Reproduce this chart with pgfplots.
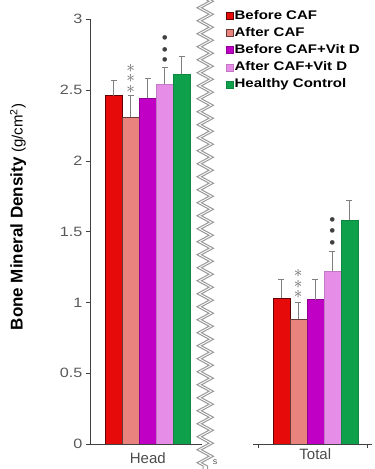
\documentclass[border=0pt]{standalone}
\usepackage{pgfplots}
\pgfplotsset{compat=1.18}
\usepackage{fontspec}
\setmainfont{Liberation Sans}
\newfontfamily\widefont[FakeStretch=1.2]{Liberation Sans}
\usetikzlibrary{decorations.pathmorphing}
\definecolor{cRed}{HTML}{E60A0A}
\definecolor{cSal}{HTML}{E8837E}
\definecolor{cMag}{HTML}{C000C4}
\definecolor{cVio}{HTML}{E68DE8}
\definecolor{cGrn}{HTML}{0FA04C}
\definecolor{cTxt}{HTML}{595959}
\definecolor{cErr}{HTML}{7F7F7F}
\tikzset{
  star/.style={inner sep=0pt, text=black!60, font=\fontsize{17}{17}\selectfont},
  dot/.style={inner sep=0pt, text=black!75, font=\fontsize{17}{17}\selectfont},
}
\pgfplotsset{
  bmd/.style={
    scale only axis, height=424.8pt,
    ymin=0, ymax=3,
    ybar=0pt, bar width=17pt,
    tick align=outside, major tick length=4pt,
    axis line style={black!75, line width=0.6pt},
    tick style={black!75, line width=0.6pt},
    /pgf/number format/assume math mode=true,
    ticklabel style={font=\widefont\fontsize{13.5}{15}\selectfont, text=cTxt},
    every axis plot/.append style={line width=0.5pt},
    error bars/y dir=plus, error bars/y explicit,
    error bars/error bar style={cErr, line width=0.8pt},
    error bars/error mark options={rotate=90, mark size=3pt, cErr, line width=0.8pt},
  },
}
\begin{document}
\begin{tikzpicture}[x=1pt,y=1pt]
\path[use as bounding box] (0,0) rectangle (375,469);
% ---------------- Head ----------------
\begin{axis}[bmd,
  at={(90pt,25pt)}, anchor=south west, width=112pt,
  xmin=0, xmax=112,
  axis x line*=bottom, axis y line*=left,
  ytick={0,0.5,1,1.5,2,2.5,3},
  xtick={57.8}, xticklabels={Head},
  x tick style={draw=none},
  xticklabel style={font=\fontsize{15}{17}\selectfont, text=black!70, yshift=-1pt},
]
\addplot[fill=cRed, draw=black!60!red] coordinates {(57.8,2.46) +- (0,0.11)};
\addplot[fill=cSal, draw=black!55!cSal] coordinates {(57.8,2.31) +- (0,0.15)};
\addplot[fill=cMag, draw=black!25!cMag] coordinates {(57.8,2.44) +- (0,0.14)};
\addplot[fill=cVio, draw=black!15!cVio] coordinates {(57.8,2.54) +- (0,0.12)};
\addplot[fill=cGrn, draw=black!15!cGrn] coordinates {(57.8,2.61) +- (0,0.13)};
\node[star] at (axis cs:40.8,2.507) {$\ast$};
\node[star] at (axis cs:40.8,2.581) {$\ast$};
\node[star] at (axis cs:40.8,2.655) {$\ast$};
\node[dot] at (axis cs:74.8,2.698) {•};
\node[dot] at (axis cs:74.8,2.775) {•};
\node[dot] at (axis cs:74.8,2.853) {•};
\end{axis}
% ---------------- Total ----------------
\begin{axis}[bmd,
  at={(253pt,25pt)}, anchor=south west, width=119pt,
  xmin=0, xmax=119,
  axis x line*=bottom, axis y line=none,
  xtick={5,114}, xticklabels={},
  extra x ticks={62.3}, extra x tick labels={Total},
  extra x tick style={major tick length=0pt, xticklabel style={font=\fontsize{15}{17}\selectfont, text=black!70, yshift=-1pt}},
  legend style={at={(axis description cs:-0.227,1.024)}, anchor=north west,
    draw=none, fill=none, inner sep=0pt, row sep=3.6pt,
    font=\widefont\fontsize{12.5}{14}\selectfont\bfseries,
    nodes={inner sep=1pt, text height=9pt, text depth=2.5pt}},
  legend cell align=left,
  legend image code/.code={\draw[#1, line width=0.4pt] (0pt,-3.5pt) rectangle (7pt,3.5pt);},
]
\addplot[fill=cRed, draw=black!60!red] coordinates {(62.3,1.03) +- (0,0.13)};
\addplot[fill=cSal, draw=black!55!cSal] coordinates {(62.3,0.88) +- (0,0.12)};
\addplot[fill=cMag, draw=black!25!cMag] coordinates {(62.3,1.02) +- (0,0.14)};
\addplot[fill=cVio, draw=black!15!cVio] coordinates {(62.3,1.22) +- (0,0.14)};
\addplot[fill=cGrn, draw=black!15!cGrn] coordinates {(62.3,1.58) +- (0,0.14)};
\legend{Before CAF, After CAF, Before CAF+Vit D, After CAF+Vit D, Healthy Control}
\node[star] at (axis cs:45.3,1.055) {$\ast$};
\node[star] at (axis cs:45.3,1.130) {$\ast$};
\node[star] at (axis cs:45.3,1.205) {$\ast$};
\node[dot] at (axis cs:79.3,1.412) {•};
\node[dot] at (axis cs:79.3,1.490) {•};
\node[dot] at (axis cs:79.3,1.568) {•};
\end{axis}
% ---------------- axis break ----------------
\draw[cErr!80, line width=1pt, decorate, decoration={zigzag, segment length=13pt, amplitude=6pt}] (203,471) -- (203,-2);
\draw[cErr!80, line width=1pt, decorate, decoration={zigzag, segment length=13pt, amplitude=6pt}] (207.5,471) -- (207.5,-2);
\node[text=cTxt, font=\fontsize{9}{10}\selectfont, inner sep=0pt] at (215,7) {s};
\node[rotate=90, inner sep=0pt] at (18,252)
  {\fontsize{17}{19}\selectfont\bfseries Bone Mineral Density \fontsize{15}{17}\mdseries\selectfont(g/cm\textsuperscript{2})};
\end{tikzpicture}
\end{document}
